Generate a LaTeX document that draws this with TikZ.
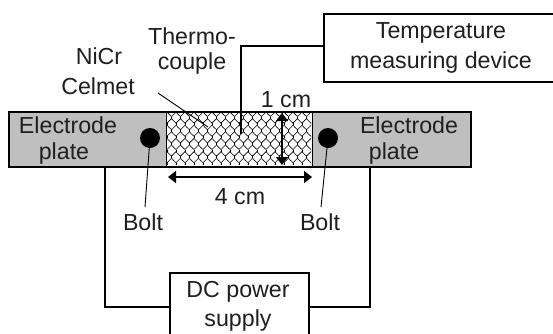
\documentclass[tikz,border=0pt]{standalone}
\usepackage{fontspec}
\setmainfont{Liberation Sans}
\usetikzlibrary{arrows.meta}
\tikzset{
  line/.style={draw=black,line width=1.7pt},
  thinline/.style={draw=black,line width=0.9pt},
  lbl/.style={font=\fontsize{23.2}{28}\selectfont,align=center,inner sep=0pt,text=black!88},
  dim/.style={draw=black,line width=1.7pt,{Triangle[length=8pt,width=12pt]}-{Triangle[length=8pt,width=12pt]}},
  boxn/.style={draw=black,line width=1.7pt,fill=white,inner sep=0pt,anchor=north west}
}
\begin{document}
\begin{tikzpicture}[x=1pt,y=-1pt]
\useasboundingbox (0,0) rectangle (553,333);
\fill[white] (0,0) rectangle (553,333);
% plate
\node[draw=black,line width=1.7pt,fill=black!25,minimum width=462pt,minimum height=55pt,inner sep=0pt,anchor=north west] (plate) at (8,111) {};
% mesh
\node[draw=black,line width=1.2pt,fill=white,minimum width=146pt,minimum height=54pt,inner sep=0pt,anchor=north west] (mesh) at (166,111.5) {};
\begin{scope}
\clip (167,112) rectangle (311,164.5);
\foreach \r in {0,...,8}{
  \pgfmathsetmacro{\yy}{112+\r*6.6}
  \pgfmathsetmacro{\off}{mod(\r,2)*4.5}
  \foreach \c in {0,...,16}{
    \pgfmathsetmacro{\xx}{158+\off+\c*9}
    \draw[black,line width=0.6pt] (\xx,\yy) .. controls (\xx+1,\yy+3) and (\xx+3,\yy+1.5) .. (\xx+4.5,\yy+4.5) .. controls (\xx+5.5,\yy+1.5) and (\xx+8,\yy+3) .. (\xx+9,\yy);
    \draw[black,line width=0.6pt] (\xx+4.5,\yy+4.5) -- (\xx+4.5,\yy+6.6);
  }
}
\end{scope}
% boxes
\node[boxn,minimum width=240pt,minimum height=68pt] (temp) at (323,13) {};
\node[boxn,minimum width=139pt,minimum height=75pt] (dc) at (169,272) {};
% wires
\coordinate (tcend) at (241,134);
\coordinate (lw) at (105,165.5);
\coordinate (rw) at (370,165.5);
\draw[line] (tcend) |- (temp.west |- 0,46);
\draw[line] (lw) |- (dc.west |- 0,307);
\draw[line] (rw) |- (dc.east |- 0,307);
% bolts
\node[circle,fill=black,minimum size=20pt,inner sep=0pt] (bl) at (150,138) {};
\node[circle,fill=black,minimum size=20pt,inner sep=0pt] (br) at (328,138) {};
% labels
\node[lbl] (ttemp) at (441,33) {Temperature};
\node[lbl] (tmeas) at (441,62) {measuring device};
\node[lbl] (tdc1) at (238,292) {DC power};
\node[lbl] (tdc2) at (238,320) {supply};
\node[lbl] (tthermo1) at (192,36) {Thermo-};
\node[lbl] (tthermo2) at (192,63) {couple};
\node[lbl] (tni1) at (99,56) {NiCr};
\node[lbl] (tni2) at (98,86) {Celmet};
\node[lbl] (t1cm) at (286,100) {1 cm};
\node[lbl] (t4cm) at (240,197) {4 cm};
\node[lbl] (te1) at (68,125) {Electrode};
\node[lbl] (tp1) at (64,153) {plate};
\node[lbl] (te2) at (409,125) {Electrode};
\node[lbl] (tp2) at (394,153) {plate};
\node[lbl] (tb1) at (143,222) {Bolt};
\node[lbl] (tb2) at (320,222) {Bolt};
% leaders
\coordinate (celA) at (158,93);
\coordinate (celB) at (208,127);
\draw[thinline] (celA) -- (celB);
\draw[thinline] (bl.center) -- (145,207);
\draw[thinline] (br.center) -- (321,207);
% dimensions
\coordinate (v1) at (282,113); \coordinate (v2) at (282,165);
\coordinate (h1) at (168,177); \coordinate (h2) at (312,177);
\draw[dim] (v1) -- (v2);
\draw[dim] (h1) -- (h2);
\end{tikzpicture}
\end{document}
